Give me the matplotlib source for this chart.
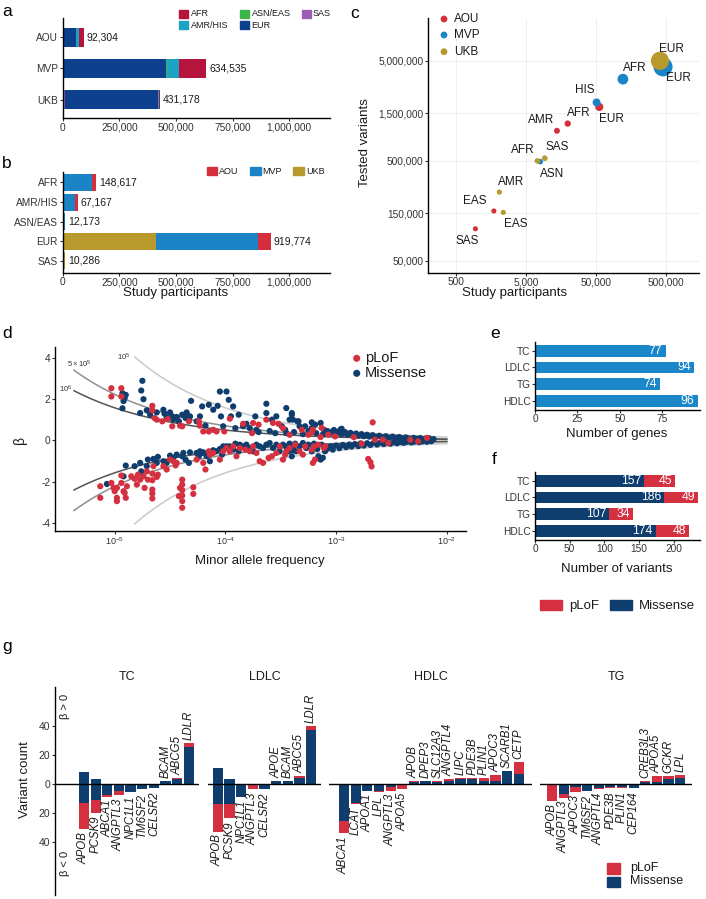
import numpy as np
import matplotlib
matplotlib.use("Agg")
import matplotlib.pyplot as plt
from matplotlib.patches import Rectangle

plt.rcParams['font.family'] = ['Liberation Sans', 'DejaVu Sans']
plt.rcParams['mathtext.fontset'] = 'custom'
plt.rcParams['mathtext.rm'] = 'Liberation Sans'
plt.rcParams['mathtext.it'] = 'Liberation Sans:italic'
plt.rcParams['mathtext.default'] = 'regular'
plt.rcParams['axes.linewidth'] = 1.0
plt.rcParams['xtick.major.width'] = 0.8
plt.rcParams['ytick.major.width'] = 0.8
plt.rcParams['xtick.major.size'] = 2.2
plt.rcParams['ytick.major.size'] = 2.2
plt.rcParams['xtick.major.pad'] = 1.0
plt.rcParams['ytick.major.pad'] = 1.2
plt.rcParams['xtick.labelsize'] = 7.3
plt.rcParams['ytick.labelsize'] = 7.3
plt.rcParams['xtick.labelcolor'] = '#333333'
plt.rcParams['ytick.labelcolor'] = '#333333'

# ---------------- data ----------------
# a / b: participants per cohort, ancestry order below
cohorts = ['AOU', 'MVP', 'UKB']
ancestries = ['AFR', 'AMR/HIS', 'ASN/EAS', 'EUR', 'SAS']
aou_n = [19817, 13900, 1750, 55883, 954]
mvp_n = [121500, 51167, 8035, 453833, 0]
ukb_n = [7300, 2100, 2388, 410058, 9332]

# c: tested variants (same ancestry order, None = not analysed)
aou_tested = [1180000, 1000000, 158000, 1730000, 105000]
mvp_tested = [3280000, 1920000, 492000, 4350000, None]
ukb_tested = [500000, 244000, 153000, 5000000, 532000]
aou_short = ['AFR', 'AMR', 'EAS', 'EUR', 'SAS']
mvp_short = ['AFR', 'HIS', 'ASN', 'EUR', None]
ukb_short = ['AFR', 'AMR', 'EAS', 'EUR', 'SAS']

# d: (log10 MAF, beta)
plof_pts = [
    (-5.03, 2.52), (-5.03, 2.12), (-4.94, 2.52), (-4.94, 2.12),
    (-4.66, 1.67), (-4.66, 1.45), (-4.64, 1.08), (-4.62, 1.00),
    (-4.57, 0.92), (-4.52, 1.03), (-4.48, 0.68), (-4.41, 0.71), (-4.39, 0.68), (-4.33, 0.92),
    (-4.24, 0.92), (-4.23, 0.71), (-4.20, 0.43), (-4.15, 0.43), (-4.11, 0.51), (-4.08, 0.43), (-4.01, 0.43),
    (-3.96, 1.05), (-3.84, 0.80), (-3.76, 0.35), (-3.75, 0.84), (-3.70, 0.76),
    (-3.63, 1.00), (-3.57, 0.84), (-3.52, 0.80), (-3.48, 0.59), (-3.42, 0.27),
    (-3.31, 0.51), (-3.22, 0.39), (-3.14, 0.16), (-3.25, 0.27),
    (-3.21, 0.52), (-3.13, 0.60), (-3.07, 0.28), (-3.01, 0.19), (-2.84, 0.15), (-2.65, 0.03),
    (-2.58, 0.03), (-2.67, 0.87), (-2.33, 0.03), (-2.18, 0.12),
    (-5.13, -2.22), (-5.13, -2.78), (-5.03, -2.06), (-5.01, -2.30), (-5.00, -2.46), (-4.98, -2.30),
    (-4.98, -2.78), (-4.98, -2.94), (-4.94, -1.70), (-4.94, -2.06), (-4.92, -2.46), (-4.91, -2.54),
    (-4.90, -2.78), (-4.89, -2.22),
    (-4.85, -1.74), (-4.82, -1.86), (-4.80, -2.14), (-4.79, -1.66), (-4.77, -1.90), (-4.74, -1.74),
    (-4.73, -2.30), (-4.71, -1.50), (-4.70, -1.90), (-4.65, -1.25), (-4.66, -1.61), (-4.66, -1.93),
    (-4.66, -2.38), (-4.66, -2.57), (-4.66, -2.81), (-4.62, -1.77), (-4.61, -1.66),
    (-4.56, -1.25), (-4.53, -1.41), (-4.50, -0.93), (-4.47, -1.01), (-4.45, -1.21), (-4.44, -1.09),
    (-4.39, -1.90), (-4.39, -2.14), (-4.39, -2.41), (-4.39, -2.67), (-4.39, -2.94), (-4.39, -3.26),
    (-4.42, -2.70), (-4.41, -2.30), (-4.29, -2.27), (-4.29, -2.59),
    (-4.26, -0.93), (-4.20, -1.09), (-4.18, -1.41), (-4.15, -0.53), (-4.14, -0.69), (-4.11, -0.61),
    (-4.05, -0.93), (-4.02, -0.53),
    (-3.99, -0.37), (-3.96, -0.53), (-3.93, -0.29), (-3.90, -0.77), (-3.87, -0.37), (-3.82, -0.45),
    (-3.78, -0.53), (-3.75, -0.29), (-3.72, -0.61),
    (-3.69, -1.01), (-3.66, -1.09), (-3.61, -0.85), (-3.58, -0.77), (-3.54, -0.61), (-3.51, -0.29),
    (-3.48, -0.93), (-3.46, -0.69), (-3.45, -0.53), (-3.42, -0.37),
    (-3.37, -0.21), (-3.33, -0.53), (-3.30, -0.69), (-3.28, -0.29), (-3.22, -0.45), (-3.20, -0.29),
    (-3.16, -0.21), (-3.11, -0.37), (-3.21, -1.09), (-3.19, -0.93), (-3.10, -0.29),
    (-2.77, -0.16), (-2.53, -0.13), (-2.71, -0.90), (-2.69, -1.06), (-2.68, -1.26), (-2.26, -0.05),
]
missense_pts = [
    (-4.93, 2.28), (-4.90, 2.20), (-4.92, 1.90), (-4.93, 1.55), (-4.91, 2.05),
    (-4.75, 2.88), (-4.76, 2.41), (-4.74, 1.99), (-4.77, 1.32), (-4.71, 1.45), (-4.68, 1.24), (-4.62, 1.35),
    (-4.56, 1.48), (-4.55, 1.29), (-4.53, 1.11), (-4.50, 1.35), (-4.48, 1.16), (-4.47, 1.00),
    (-4.44, 1.13), (-4.42, 0.92), (-4.39, 1.24), (-4.36, 1.08), (-4.35, 1.35), (-4.32, 1.16),
    (-4.31, 1.91), (-4.33, 1.00),
    (-4.26, 0.92), (-4.23, 1.16), (-4.21, 1.64), (-4.18, 0.71), (-4.15, 1.72), (-4.11, 1.48),
    (-4.07, 1.67), (-4.05, 2.36), (-4.04, 1.16), (-4.02, 0.68),
    (-3.99, 2.36), (-3.97, 1.96), (-3.95, 1.16), (-3.93, 1.64), (-3.91, 0.59), (-3.88, 1.24),
    (-3.84, 0.68), (-3.81, 0.80), (-3.78, 0.59), (-3.73, 1.16), (-3.72, 0.51),
    (-3.63, 1.77), (-3.63, 1.32), (-3.58, 1.00), (-3.54, 1.16), (-3.49, 0.68), (-3.45, 1.56),
    (-3.40, 1.24), (-3.42, 1.00), (-3.46, 0.51),
    (-3.39, 1.00), (-3.35, 0.92), (-3.33, 0.68), (-3.28, 0.68), (-3.22, 0.59), (-3.19, 0.76),
    (-3.14, 0.84), (-3.11, 0.51), (-3.40, 1.32), (-3.34, 0.92), (-3.22, 0.87), (-2.96, 0.52), (-2.95, 0.56),
    (-3.70, 0.40), (-3.60, 0.45), (-3.55, 0.35), (-3.45, 0.35), (-3.38, 0.40), (-3.30, 0.30),
    (-3.25, 0.45), (-3.18, 0.35), (-3.12, 0.28),
    (-3.08, 0.45), (-3.05, 0.38), (-3.02, 0.50), (-3.00, 0.33), (-2.98, 0.42), (-2.95, 0.30),
    (-2.92, 0.40), (-2.90, 0.28), (-2.87, 0.36), (-2.85, 0.25), (-2.82, 0.33), (-2.80, 0.22),
    (-2.77, 0.30), (-2.75, 0.20), (-2.72, 0.27), (-2.70, 0.18), (-2.67, 0.25), (-2.64, 0.17),
    (-2.61, 0.22), (-2.58, 0.15), (-2.55, 0.20), (-2.52, 0.13), (-2.49, 0.18), (-2.46, 0.12),
    (-2.43, 0.16), (-2.40, 0.10), (-2.37, 0.14), (-2.34, 0.09), (-2.30, 0.12), (-2.27, 0.08),
    (-2.24, 0.11), (-2.20, 0.07), (-2.16, 0.10), (-2.12, 0.06),
    (-5.07, -2.11), (-4.90, -1.22), (-4.92, -1.74),
    (-4.82, -1.25), (-4.77, -1.09), (-4.76, -1.50), (-4.71, -1.25), (-4.70, -0.93), (-4.65, -0.90),
    (-4.62, -1.09), (-4.61, -0.80),
    (-4.56, -1.01), (-4.53, -1.09), (-4.50, -0.74), (-4.47, -0.85), (-4.44, -0.69), (-4.39, -0.77),
    (-4.38, -0.61), (-4.36, -0.93), (-4.33, -1.09), (-4.32, -0.58),
    (-4.26, -0.61), (-4.24, -0.77), (-4.23, -0.53), (-4.21, -0.61), (-4.20, -0.58), (-4.17, -0.77),
    (-4.14, -1.01), (-4.11, -0.48), (-4.08, -0.53), (-4.05, -0.42), (-4.03, -0.69), (-4.02, -0.29),
    (-3.99, -0.29), (-3.96, -0.29), (-3.93, -0.45), (-3.91, -0.16), (-3.88, -0.53), (-3.87, -0.21),
    (-3.84, -0.29), (-3.81, -0.21), (-3.78, -0.37), (-3.75, -0.53), (-3.72, -0.21),
    (-3.69, -0.29), (-3.66, -0.37), (-3.63, -0.21), (-3.60, -0.13), (-3.57, -0.37), (-3.54, -0.21),
    (-3.51, -0.53), (-3.48, -0.21), (-3.45, -0.29), (-3.43, -0.53), (-3.42, -0.16), (-3.40, -0.77),
    (-3.39, -0.48), (-3.39, -0.37), (-3.37, -0.16), (-3.36, -0.53), (-3.33, -0.29), (-3.30, -0.13),
    (-3.27, -0.37), (-3.25, -0.21), (-3.22, -0.53), (-3.20, -0.16), (-3.17, -0.42), (-3.16, -0.77),
    (-3.13, -0.21), (-3.10, -0.53), (-3.14, -0.93), (-3.12, -0.84),
    (-3.08, -0.40), (-3.05, -0.30), (-3.03, -0.45), (-3.00, -0.25), (-2.97, -0.38), (-2.94, -0.22),
    (-2.91, -0.33), (-2.88, -0.20), (-2.86, -0.30), (-2.83, -0.18), (-2.80, -0.28), (-2.78, -0.15),
    (-2.75, -0.25), (-2.72, -0.14), (-2.69, -0.22), (-2.66, -0.12), (-2.63, -0.20), (-2.60, -0.11),
    (-2.57, -0.18), (-2.54, -0.10), (-2.51, -0.16), (-2.48, -0.09), (-2.45, -0.14), (-2.42, -0.08),
    (-2.39, -0.12), (-2.36, -0.07), (-2.32, -0.10), (-2.29, -0.06), (-2.25, -0.09), (-2.22, -0.05),
    (-2.18, -0.07), (-2.14, -0.04),
]
# power curves: beta = k / sqrt(2 N maf)
curve_n = [1e5, 5e5, 1e6]
curve_labels = [r'$10^5$', r'$5\times10^5$', r'$10^6$']
curve_start = [1.52e-5, 4.29e-6, 4.29e-6]
curve_k = 7.03

# e / f
traits = ['TC', 'LDLC', 'TG', 'HDLC']
n_genes = [77, 94, 74, 96]
n_missense = [157, 186, 107, 174]
n_plof = [45, 49, 34, 48]

# g: per trait genes, counts with beta>0 and beta<0
g_traits = ['TC', 'LDLC', 'HDLC', 'TG']
tc_genes = ['APOB', 'PCSK9', 'ABCA1', 'ANGPTL3', 'NPC1L1', 'TM6SF2', 'CELSR2', 'BCAM', 'ABCG5', 'LDLR']
tc_pos_mis = [8, 3, 0, 0, 0, 0, 0, 2, 3, 25]
tc_pos_plof = [0, 0, 0, 0, 0, 0, 0, 0, 1, 3]
tc_neg_mis = [13, 11, 8, 5, 6, 4, 3, 0, 0, 1]
tc_neg_plof = [18, 9, 1, 3, 0, 0, 0, 0, 0, 0]
ldlc_genes = ['APOB', 'PCSK9', 'NPC1L1', 'ANGPTL3', 'CELSR2', 'APOE', 'BCAM', 'ABCG5', 'LDLR']
ldlc_pos_mis = [11, 3, 0, 0, 0, 2, 2, 4, 37]
ldlc_pos_plof = [0, 0, 0, 0, 0, 0, 0, 1, 3]
ldlc_neg_mis = [14, 14, 9, 1, 4, 0, 1, 0, 1]
ldlc_neg_plof = [19, 10, 0, 3, 0, 0, 0, 0, 0]
hdlc_genes = ['ABCA1', 'LCAT', 'APOA1', 'LPL', 'ANGPTL3', 'APOA5', 'APOB', 'DPEP3', 'SLC12A3',
              'ANGPTL4', 'LIPC', 'PDE3B', 'PLIN1', 'APOC3', 'SCARB1', 'CETP']
hdlc_pos_mis = [0, 0, 0, 0, 0, 0, 1, 2, 1, 2, 3, 3, 2, 2, 9, 7]
hdlc_pos_plof = [0, 0, 0, 0, 0, 0, 1, 0, 1, 1, 1, 1, 2, 4, 0, 8]
hdlc_neg_mis = [26, 13, 5, 5, 2, 1, 0, 0, 0, 0, 0, 0, 0, 0, 0, 0]
hdlc_neg_plof = [8, 1, 0, 1, 3, 3, 0, 0, 0, 0, 0, 0, 0, 0, 0, 1]
tg_genes = ['APOB', 'ANGPTL3', 'APOC3', 'TM6SF2', 'ANGPTL4', 'PDE3B', 'PLIN1', 'CEP164',
            'CREB3L3', 'APOA5', 'GCKR', 'LPL']
tg_pos_mis = [0, 0, 0, 0, 0, 0, 0, 0, 1, 1, 3, 4]
tg_pos_plof = [0, 0, 0, 0, 0, 0, 0, 0, 1, 4, 2, 2]
tg_neg_mis = [1, 7, 2, 5, 3, 2, 2, 3, 0, 1, 0, 0]
tg_neg_plof = [11, 3, 4, 0, 1, 1, 1, 0, 0, 0, 0, 0]

# ---------------- style ----------------
anc_colors = {'AFR': '#B5153D', 'AMR/HIS': '#1CA2C4', 'ASN/EAS': '#3DB54A',
              'EUR': '#0C3F8C', 'SAS': '#9B5CB4'}
coh_colors = {'AOU': '#D52F3E', 'MVP': '#1B84C6', 'UKB': '#B8992E'}
PLOF = '#D5303F'
MIS = '#0F3D6D'
E_BLUE = '#1B86C8'
TXT = '#1a1a1a'

W, H = 706, 899


def box(x0, y0, x1, y1):
    return [x0 / W, 1 - y1 / H, (x1 - x0) / W, (y1 - y0) / H]


def classic(ax):
    ax.spines['top'].set_visible(False)
    ax.spines['right'].set_visible(False)
    ax.tick_params(colors='#333333')


fig = plt.figure(figsize=(W / 100, H / 100), dpi=100)

# ---------------- a ----------------
ax_a = fig.add_axes(box(62.7, 18, 330, 118.3))
classic(ax_a)
coh_counts = {'AOU': aou_n, 'MVP': mvp_n, 'UKB': ukb_n}
stack_a = ['SAS', 'EUR', 'ASN/EAS', 'AMR/HIS', 'AFR']
for i, c in enumerate(cohorts):
    left = 0
    for anc in stack_a:
        v = coh_counts[c][ancestries.index(anc)]
        ax_a.barh(i, v, left=left, height=0.6, color=anc_colors[anc])
        left += v
    ax_a.annotate(f'{left:,}', (left, i), xytext=(2, 0), textcoords='offset points',
                  va='center', ha='left', fontsize=7.5, color=TXT)
ax_a.set_xlim(0, 1.18e6)
ax_a.set_ylim(2.6, -0.62)
ax_a.set_yticks(range(3))
ax_a.set_yticklabels(cohorts)
ax_a.set_xticks([0, 250000, 500000, 750000, 1000000])
ax_a.set_xticklabels(['0', '250,000', '500,000', '750,000', '1,000,000'])

# ---------------- b ----------------
ax_b = fig.add_axes(box(62.7, 171.7, 330, 272.7))
classic(ax_b)
stack_b = ['UKB', 'MVP', 'AOU']
for j, anc in enumerate(ancestries):
    left = 0
    for c in stack_b:
        v = coh_counts[c][j]
        ax_b.barh(j, v, left=left, height=0.86, color=coh_colors[c])
        left += v
    ax_b.annotate(f'{left:,}', (left, j), xytext=(2, 0), textcoords='offset points',
                  va='center', ha='left', fontsize=7.5, color=TXT)
ax_b.set_xlim(0, 1.18e6)
ax_b.set_ylim(4.6, -0.55)
ax_b.set_yticks(range(5))
ax_b.set_yticklabels(ancestries)
ax_b.set_xticks([0, 250000, 500000, 750000, 1000000])
ax_b.set_xticklabels(['0', '250,000', '500,000', '750,000', '1,000,000'])

# ---------------- c ----------------
ax_c = fig.add_axes(box(428.3, 18.3, 699, 272.7))
classic(ax_c)
ax_c.set_xscale('log')
ax_c.set_yscale('log')
ax_c.set_xlim(203, 1.48e6)
ax_c.set_ylim(38200, 1.33e7)
cx = [500, 5000, 50000, 500000]
cy = [50000, 150000, 500000, 1500000, 5000000]
ax_c.set_xticks(cx)
ax_c.set_xticklabels([f'{v:,}' for v in cx])
ax_c.set_yticks(cy)
ax_c.set_yticklabels([f'{v:,}' for v in cy])
ax_c.minorticks_off()
for v in cx:
    ax_c.axvline(v, color='#EBEBEB', lw=0.6, zorder=0)
for v in cy:
    ax_c.axhline(v, color='#EBEBEB', lw=0.6, zorder=0)
tested = {'AOU': aou_tested, 'MVP': mvp_tested, 'UKB': ukb_tested}
short = {'AOU': aou_short, 'MVP': mvp_short, 'UKB': ukb_short}
# label offsets in pixels (dx right, dy down)
c_offsets = {
    ('AOU', 'SAS'): (-8, 12), ('AOU', 'EAS'): (-19, -10), ('AOU', 'AMR'): (-16, -11),
    ('AOU', 'AFR'): (11, -11), ('AOU', 'EUR'): (12, 12),
    ('MVP', 'EUR'): (15, 11), ('MVP', 'AFR'): (12, -11), ('MVP', 'HIS'): (-12, -12),
    ('MVP', 'ASN'): (12, 12),
    ('UKB', 'EUR'): (12, -12), ('UKB', 'AFR'): (-15, -11), ('UKB', 'SAS'): (12, -11),
    ('UKB', 'AMR'): (12, -10), ('UKB', 'EAS'): (12, 12),
}
for c in cohorts:
    for j in range(len(ancestries)):
        n = coh_counts[c][j]
        t = tested[c][j]
        if t is None or n == 0:
            continue
        s = 0.5184 * (25 + 0.000747 * n)
        ax_c.scatter(n, t, s=s, color=coh_colors[c], edgecolors='none', zorder=3)
for c in cohorts:
    for j in range(len(ancestries)):
        t = tested[c][j]
        if t is None:
            continue
        nm = short[c][j]
        dx, dy = c_offsets[(c, nm)]
        ax_c.annotate(nm, (coh_counts[c][j], t), xytext=(dx * 0.72, -dy * 0.72),
                      textcoords='offset points', ha='center', va='center',
                      fontsize=8.5, color=TXT, zorder=4)

# ---------------- d ----------------
ax_d = fig.add_axes(box(55, 347.3, 466, 530.7))
classic(ax_d)
ax_d.set_xscale('log')
ax_d.set_xlim(2.89e-6, 1.49e-2)
ax_d.set_ylim(-4.37, 4.5)
curve_cols = ['#C9C9C9', '#8E8E8E', '#545454']
for nn, st, col in zip(curve_n, curve_start, curve_cols):
    p = np.logspace(np.log10(st), -2, 200)
    b = curve_k / np.sqrt(2 * nn * p)
    ax_d.plot(p, b, color=col, lw=1.1, zorder=1)
    ax_d.plot(p, -b, color=col, lw=1.1, zorder=1)
lab_off = [(-3, 0, 'right'), (4, 4, 'center'), (-1, 1, 'right')]
for nn, st, lab, (ox, oy, ha) in zip(curve_n, curve_start, curve_labels, lab_off):
    b0 = curve_k / np.sqrt(2 * nn * st)
    ax_d.annotate(lab, (st, b0), xytext=(ox, oy), textcoords='offset points',
                  ha=ha, va='center', fontsize=5.5, color='#333333')
mx = [10 ** p[0] for p in missense_pts]
my = [p[1] for p in missense_pts]
px = [10 ** p[0] for p in plof_pts]
py = [p[1] for p in plof_pts]
ax_d.scatter(mx, my, s=20, color=MIS, edgecolors='none', zorder=2)
ax_d.scatter(px, py, s=20, color=PLOF, edgecolors='none', zorder=3)
ax_d.set_xticks([1e-5, 1e-4, 1e-3, 1e-2])
ax_d.set_xticklabels([r'$10^{-5}$', r'$10^{-4}$', r'$10^{-3}$', r'$10^{-2}$'], fontsize=6.5)
ax_d.minorticks_off()
ax_d.set_yticks([4, 2, 0, -2, -4])
ax_d.set_yticklabels(['4', '2', '0', '-2', '-4'])

# ---------------- e ----------------
ax_e = fig.add_axes(box(535, 341.7, 700, 410))
classic(ax_e)
ax_e.barh(range(4), n_genes, height=0.7, color=E_BLUE)
for i, v in enumerate(n_genes):
    ax_e.annotate(str(v), (v, i), xytext=(-2.5, 0), textcoords='offset points',
                  ha='right', va='center', color='white', fontsize=8.8)
ax_e.set_xlim(0, 97.3)
ax_e.set_ylim(3.54, -0.54)
ax_e.set_yticks(range(4))
ax_e.set_yticklabels(traits)
ax_e.set_xticks([0, 25, 50, 75])

# ---------------- f ----------------
ax_f = fig.add_axes(box(535, 471.7, 700, 540))
classic(ax_f)
ax_f.barh(range(4), n_missense, height=0.7, color=MIS)
ax_f.barh(range(4), n_plof, left=n_missense, height=0.7, color=PLOF)
for i in range(4):
    ax_f.annotate(str(n_missense[i]), (n_missense[i], i), xytext=(-2, 0), textcoords='offset points',
                  ha='right', va='center', color='white', fontsize=8.8)
    tot = n_missense[i] + n_plof[i]
    ax_f.annotate(str(n_plof[i]), (tot, i), xytext=(-2, 0), textcoords='offset points',
                  ha='right', va='center', color='white', fontsize=8.8)
ax_f.set_xlim(0, 238)
ax_f.set_ylim(3.54, -0.54)
ax_f.set_yticks(range(4))
ax_f.set_yticklabels(traits)
ax_f.set_xticks([0, 50, 100, 150, 200])

# ---------------- g ----------------
g_data = {
    'TC': (tc_genes, tc_pos_mis, tc_pos_plof, tc_neg_mis, tc_neg_plof),
    'LDLC': (ldlc_genes, ldlc_pos_mis, ldlc_pos_plof, ldlc_neg_mis, ldlc_neg_plof),
    'HDLC': (hdlc_genes, hdlc_pos_mis, hdlc_pos_plof, hdlc_neg_mis, hdlc_neg_plof),
    'TG': (tg_genes, tg_pos_mis, tg_pos_plof, tg_neg_mis, tg_neg_plof),
}
facet_px = [(55, 199, 2.49), (208, 321, 0.85), (329, 532, 1.29), (540, 692, 1.04)]
unit_px = 11.65
for k, (tr, (x0, x1, lpad)) in enumerate(zip(g_traits, facet_px)):
    ax = fig.add_axes(box(x0, 686.7, x1, 895))
    genes, pm, pp, nm_, np_ = g_data[tr]
    xs = np.arange(len(genes))
    ax.bar(xs, pm, width=0.88, color=MIS)
    ax.bar(xs, pp, bottom=pm, width=0.88, color=PLOF)
    ax.bar(xs, [-v for v in nm_], width=0.88, color=MIS)
    ax.bar(xs, [-v for v in np_], bottom=[-v for v in nm_], width=0.88, color=PLOF)
    ax.axhline(0, color='black', lw=1.0, zorder=3)
    for i, g in enumerate(genes):
        up = pm[i] + pp[i]
        dn = nm_[i] + np_[i]
        if up >= dn:
            ax.annotate(g, (i, up), xytext=(0, 2.2), textcoords='offset points', rotation=90,
                        ha='center', va='bottom', fontsize=8.3, style='italic', color=TXT)
        else:
            ax.annotate(g, (i, -dn), xytext=(0, -2.2), textcoords='offset points', rotation=90,
                        ha='center', va='top', fontsize=8.3, style='italic', color=TXT)
    ax.set_xlim(-lpad, -lpad + (x1 - x0) / unit_px)
    ax.set_ylim(-76.8, 66.9)
    ax.set_title(tr, fontsize=9, pad=5, color=TXT)
    for sp in ['top', 'right', 'bottom']:
        ax.spines[sp].set_visible(False)
    ax.set_xticks([])
    ax.patch.set_alpha(0)
    if k == 0:
        ax.set_yticks([40, 20, 0, -20, -40])
        ax.set_yticklabels(['40', '20', '0', '20', '40'])
        ax.tick_params(colors='#333333', labelsize=7.5)
        ax.text(0.07, 0.905, r'β > 0', transform=ax.transAxes, rotation=90, ha='center',
                va='center', fontsize=8, color=TXT)
        ax.text(0.07, 0.15, r'β < 0', transform=ax.transAxes, rotation=90, ha='center',
                va='center', fontsize=8, color=TXT)
    else:
        ax.spines['left'].set_visible(False)
        ax.set_yticks([])

# ---------------- overlay: titles, legends, panel letters ----------------
ov = fig.add_axes([0, 0, 1, 1], zorder=10)
ov.set_xlim(0, W)
ov.set_ylim(H, 0)
ov.axis('off')
ov.patch.set_alpha(0)

for lt, x, y in [('a', 2, 12), ('b', 2, 163), ('c', 350, 13), ('d', 2, 333),
                 ('e', 490, 333), ('f', 492, 459), ('g', 2, 647)]:
    ov.text(x, y, lt, fontsize=12.5, ha='left', va='center', color='black')

ov.text(176, 293, 'Study participants', fontsize=9.5, ha='center', va='center', color=TXT)
ov.text(515, 293, 'Study participants', fontsize=9.5, ha='center', va='center', color=TXT)
ov.text(365, 143, 'Tested variants', fontsize=9.5, ha='center', va='center', rotation=90, color=TXT)
ov.text(20, 440, 'β', fontsize=10, ha='center', va='center', rotation=90, color=TXT)
ov.text(260, 561, 'Minor allele frequency', fontsize=9.5, ha='center', va='center', color=TXT)
ov.text(617, 434, 'Number of genes', fontsize=9.5, ha='center', va='center', color=TXT)
ov.text(617, 569, 'Number of variants', fontsize=9.5, ha='center', va='center', color=TXT)
ov.text(25, 780, 'Variant count', fontsize=9.5, ha='center', va='center', rotation=90, color=TXT)

# legend a
for anc, (x, y) in zip(['AFR', 'ASN/EAS', 'SAS', 'AMR/HIS', 'EUR'],
                       [(179, 9.5), (240, 9.5), (301.5, 9.5), (179, 20.7), (240, 20.7)]):
    ov.add_patch(Rectangle((x, y), 9, 8.5, color=anc_colors[anc]))
    ov.text(x + 11.5, y + 4.5, anc, fontsize=6.5, ha='left', va='center', color=TXT)
# legend b
for c, x in zip(cohorts, [206.5, 250, 293.3]):
    ov.add_patch(Rectangle((x, 167.3), 10.5, 7.7, color=coh_colors[c]))
    ov.text(x + 12.5, 171.3, c, fontsize=6.5, ha='left', va='center', color=TXT)
# legend c
for c, y in zip(cohorts, [19, 35, 51.7]):
    ov.scatter([444], [y], s=24, color=coh_colors[c], edgecolors='none')
    ov.text(454, y, c, fontsize=8.5, ha='left', va='center', color=TXT)
# legend d
for lab, col, y in [('pLoF', PLOF, 358.3), ('Missense', MIS, 373.3)]:
    ov.scatter([356.7], [y], s=26, color=col, edgecolors='none')
    ov.text(365, y, lab, fontsize=10.5, ha='left', va='center', color=TXT)
# legend e/f
ov.add_patch(Rectangle((540, 600), 21.7, 10, color=PLOF))
ov.text(569, 606, 'pLoF', fontsize=9.5, ha='left', va='center', color=TXT)
ov.add_patch(Rectangle((610, 600), 21.7, 10, color=MIS))
ov.text(639, 606, 'Missense', fontsize=9.5, ha='left', va='center', color=TXT)
# legend g
ov.add_patch(Rectangle((606.7, 863), 13.3, 10.5, color=PLOF))
ov.add_patch(Rectangle((606.7, 876.5), 13.3, 10.5, color=MIS))
ov.text(630, 867.5, 'pLoF', fontsize=9, ha='left', va='center', color=TXT)
ov.text(630, 881.5, 'Missense', fontsize=9, ha='left', va='center', color=TXT)

fig.savefig('out.png', dpi=100)
